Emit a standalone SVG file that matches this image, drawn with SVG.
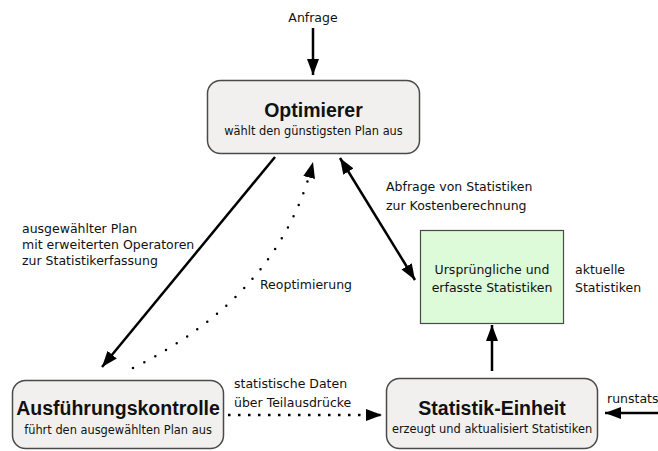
<svg xmlns="http://www.w3.org/2000/svg" width="658" height="451" viewBox="0 0 658 451">
<defs>
<style>
.box{fill:#f1f0ef;stroke:#4a4a4a;stroke-width:1.5}
.green{fill:#ddfbd8;stroke:#4a4a4a;stroke-width:1.2}
.t{font-family:"DejaVu Sans","Liberation Sans",sans-serif;fill:#111}
.title{font-family:"Liberation Sans",Arial,sans-serif;font-size:19.5px;font-weight:bold;text-anchor:middle}
.sub{font-size:11.4px;text-anchor:middle}
.lbl{font-size:12.5px}
.ln{fill:none;stroke:#000;stroke-width:2.5}
.dot{fill:none;stroke:#000;stroke-width:2.5;stroke-dasharray:2.5 7.5}
.dotc{fill:none;stroke:#000;stroke-width:2.5;stroke-linecap:round;stroke-dasharray:0 12.5}
</style>
<marker id="ah" markerUnits="userSpaceOnUse" markerWidth="17" markerHeight="12" refX="16" refY="6" orient="auto">
<path d="M0,0 L16,6 L0,12 Z" fill="#000"/>
</marker>
<marker id="ahs" markerUnits="userSpaceOnUse" markerWidth="17" markerHeight="12" refX="16" refY="6" orient="auto-start-reverse">
<path d="M0,0 L16,6 L0,12 Z" fill="#000"/>
</marker>
</defs>

<g id="connectors">
<line class="ln" x1="313" y1="28" x2="313" y2="75" marker-end="url(#ah)"/>
<line class="ln" x1="275" y1="157" x2="102" y2="367" marker-end="url(#ah)"/>
<path class="dotc" d="M133,368 Q280,295 313,162" marker-end="url(#ah)"/>
<line class="ln" x1="340" y1="158" x2="415" y2="280" marker-start="url(#ahs)" marker-end="url(#ahs)"/>
<line class="ln" x1="492" y1="371" x2="492" y2="325" marker-end="url(#ah)"/>
<line class="ln" x1="658" y1="413" x2="605" y2="413" marker-end="url(#ah)"/>
<line class="dot" x1="228" y1="415" x2="382" y2="415" marker-end="url(#ah)"/>
<text class="t lbl" x="313" y="22" text-anchor="middle">Anfrage</text>
<text class="t lbl" x="22" y="233">ausgewählter Plan</text>
<text class="t lbl" x="22" y="249">mit erweiterten Operatoren</text>
<text class="t lbl" x="22" y="265">zur Statistikerfassung</text>
<text class="t lbl" x="260" y="289">Reoptimierung</text>
<text class="t lbl" x="386" y="191">Abfrage von Statistiken</text>
<text class="t lbl" x="386" y="210">zur Kostenberechnung</text>
<text class="t lbl" x="575" y="274">aktuelle</text>
<text class="t lbl" x="575" y="292">Statistiken</text>
<text class="t lbl" x="234" y="388">statistische Daten</text>
<text class="t lbl" x="234" y="407">über Teilausdrücke</text>
<text class="t lbl" x="607" y="403">runstats</text>
</g>

<g id="optimierer">
<rect class="box" x="207.5" y="80.5" width="212" height="73" rx="13"/>
<text class="t title" x="313.5" y="117">Optimierer</text>
<text class="t sub" x="313.5" y="135">wählt den günstigsten Plan aus</text>
</g>

<g id="statistiken">
<rect class="green" x="420.5" y="230.5" width="143" height="93"/>
<text class="t lbl" x="492" y="274" text-anchor="middle">Ursprüngliche und</text>
<text class="t lbl" x="492" y="292" text-anchor="middle">erfasste Statistiken</text>
</g>

<g id="ausfuehrungskontrolle">
<rect class="box" x="12.5" y="380.5" width="211" height="68" rx="13"/>
<text class="t title" x="118" y="415">Ausführungskontrolle</text>
<text class="t sub" x="118" y="434">führt den ausgewählten Plan aus</text>
</g>

<g id="statistik-einheit">
<rect class="box" x="386.5" y="378.5" width="211" height="70" rx="13"/>
<text class="t title" x="492" y="415">Statistik-Einheit</text>
<text class="t sub" x="492" y="433">erzeugt und aktualisiert Statistiken</text>
</g>
</svg>
